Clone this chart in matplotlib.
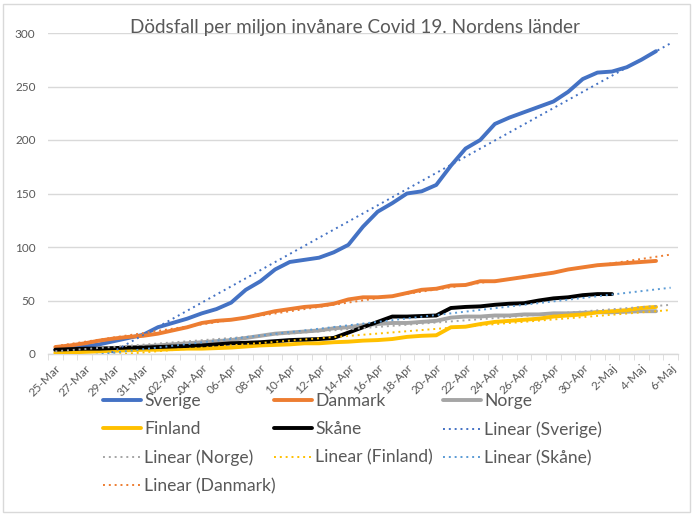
import numpy as np
import matplotlib
matplotlib.use("Agg")
import matplotlib.pyplot as plt
from matplotlib.patches import Rectangle

plt.rcParams['font.family'] = ['Lato', 'DejaVu Sans']

# Categories: 25-Mar .. 6-Maj (43 days)
dates = (["%d-Mar" % d for d in range(25, 32)] +
         ["%02d-Apr" % d for d in range(1, 31)] +
         ["%d-Maj" % d for d in range(1, 7)])

sverige = [4, 5, 7, 9, 12, 15, 18, 25, 29, 33, 38, 42, 48, 60, 68, 79, 86, 88, 90, 95,
           102, 119, 133, 141, 150, 152, 158, 176, 192, 200, 215, 221, 226, 231, 236,
           245, 257, 263, 264, 268, 275, 283]
danmark = [6.5, 8, 10, 12.5, 14.5, 16, 17, 19, 22, 25, 29, 31, 32, 34, 37, 40, 42, 44,
           45, 47, 51, 53, 53, 54, 57, 60, 61, 64, 64.5, 68, 68, 70, 72, 74, 76, 79, 81,
           83, 84, 85, 86, 87]
norge = [3, 4, 4.5, 5, 5.5, 6, 7, 8, 9, 10, 11, 12, 13, 15, 17, 19, 20, 21, 22, 24, 25,
         27, 28, 29, 29, 30, 31, 34, 35, 35, 36, 36, 37, 37, 38, 38, 38.5, 39, 39, 39.5,
         40, 40]
finland = [1, 1.5, 2, 2.5, 3, 3.5, 4, 4, 4.5, 5, 5, 5.5, 6, 7, 8, 8.5, 9, 10, 10, 11,
           11.5, 12.5, 13, 14, 16, 17, 17.5, 25, 25.5, 28, 30, 31, 32, 33, 35, 36, 37,
           39, 40, 41, 43, 44]
skane = [4, 4.5, 5, 5, 5.5, 6, 6, 6.5, 7, 7.5, 8, 9, 10, 10.5, 11, 12, 13, 13.5, 14, 15,
         20, 25, 30, 35, 35, 35.5, 36, 43, 44, 44.5, 46, 47, 47.5, 50, 52, 53, 55, 56, 56]

series = [
    ("Sverige", sverige, "#4472C4", "#4472C4"),
    ("Danmark", danmark, "#ED7D31", "#ED7D31"),
    ("Norge", norge, "#A5A5A5", "#A5A5A5"),
    ("Finland", finland, "#FFC000", "#FFC000"),
    ("Skåne", skane, "#000000", "#5B9BD5"),
]

fig = plt.figure(figsize=(7.0, 5.21), dpi=100)
ax = fig.add_axes([48 / 700, 1 - 354 / 521, 630 / 700, 321 / 521])

n = len(dates)
xall = np.arange(n)
handles = {}
for name, vals, col, tcol in series:
    x = np.arange(len(vals))
    h, = ax.plot(x, vals, color=col, lw=2.8, solid_capstyle='round',
                 solid_joinstyle='round', zorder=3)
    handles[name] = h
    p = np.polyfit(x, vals, 1)
    t, = ax.plot(xall, np.polyval(p, xall), color=tcol, lw=1.4,
                 linestyle=(0, (1, 2)), zorder=4)
    handles["Linear (%s)" % name] = t

ax.set_xlim(-0.5, n - 0.5)
ax.set_ylim(0, 300)
ax.set_yticks(np.arange(0, 301, 50))
ax.grid(axis='y', color='#D9D9D9', lw=1)
ax.set_axisbelow(True)
for s in ['top', 'right', 'left']:
    ax.spines[s].set_visible(False)
ax.spines['bottom'].set_color('#D9D9D9')
ax.spines['bottom'].set_linewidth(1)

ax.set_xticks(xall[::2])
ax.set_xticklabels(dates[::2], rotation=45, ha='right', va='top',
                   rotation_mode='anchor')
ax.set_xticks(np.arange(-0.5, n, 1), minor=True)
ax.tick_params(axis='x', which='major', length=0, pad=6, labelsize=8.5,
               labelcolor='#595959')
ax.tick_params(axis='x', which='minor', length=4, color='#D9D9D9')
ax.tick_params(axis='y', length=0, pad=9, labelsize=8.5, labelcolor='#595959')

fig.text(355 / 700, 1 - 28 / 521, "Dödsfall per miljon invånare Covid 19. Nordens länder",
         ha='center', va='center', fontsize=13.6, color='#595959')

columns = [
    (103, ["Sverige", "Finland", "Linear (Norge)", "Linear (Danmark)"]),
    (274, ["Danmark", "Skåne", "Linear (Finland)"]),
    (443, ["Norge", "Linear (Sverige)", "Linear (Skåne)"]),
]
for xpx, names in columns:
    leg = fig.legend([handles[k] for k in names], names, ncol=1,
                     loc='upper left', bbox_to_anchor=(xpx / 700, 1 - 393 / 521),
                     frameon=False, fontsize=12.6, handlelength=2.15,
                     labelspacing=0.7, handletextpad=0.2, borderpad=0,
                     borderaxespad=0, labelcolor='#595959')

fig.patches.append(Rectangle((3 / 700, 1 - 512 / 521), 687 / 700, 508 / 521,
                             transform=fig.transFigure, fill=False,
                             edgecolor='#D9D9D9', lw=1))

fig.savefig("out.png", dpi=100)
